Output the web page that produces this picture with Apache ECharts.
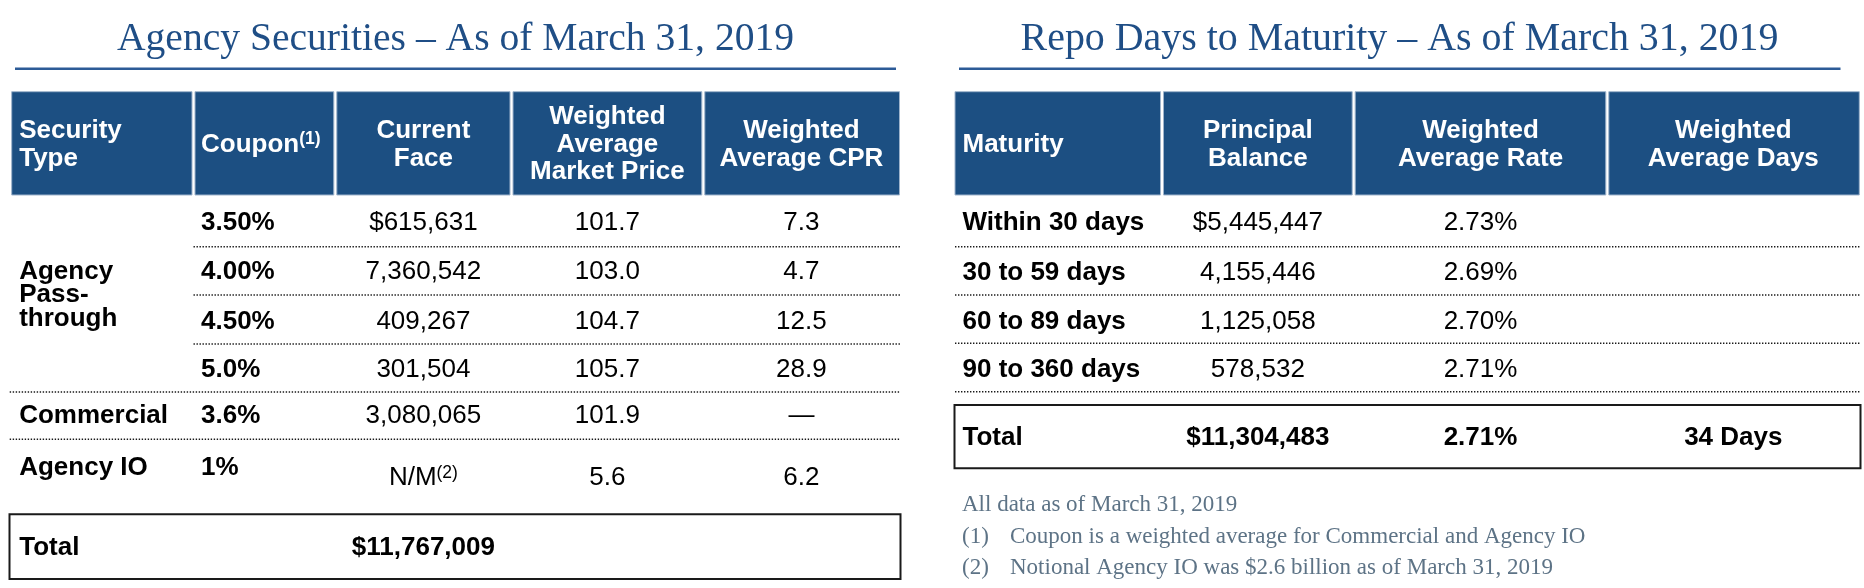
<!DOCTYPE html>
<html>
<head>
<meta charset="utf-8">
<script src="https://cdn.jsdelivr.net/npm/echarts@6/dist/echarts.min.js"></script>
<style>html,body{margin:0;padding:0;background:#fff}#chart{width:1864px;height:588px}</style>
</head>
<body>
<div id="chart"></div>
<script>
// ---------------- data ----------------
const leftTitle = 'Agency Securities – As of March 31, 2019';
const rightTitle = 'Repo Days to Maturity – As of March 31, 2019';

const secHeaders = ['Security\nType', 'Coupon', 'Current\nFace', 'Weighted\nAverage\nMarket Price', 'Weighted\nAverage CPR'];
const secHeaderNotes = ['', '(1)', '', '', ''];
const securityTypes = ['Agency\nPass-\nthrough', 'Commercial', 'Agency IO'];
const coupons = ['3.50%', '4.00%', '4.50%', '5.0%', '3.6%', '1%'];
const currentFace = ['$615,631', '7,360,542', '409,267', '301,504', '3,080,065', 'N/M'];
const currentFaceNotes = ['', '', '', '', '', '(2)'];
const marketPrice = ['101.7', '103.0', '104.7', '105.7', '101.9', '5.6'];
const cpr = ['7.3', '4.7', '12.5', '28.9', '—', '6.2'];
const secTotal = ['Total', '', '$11,767,009', '', ''];

const repoHeaders = ['Maturity', 'Principal\nBalance', 'Weighted\nAverage Rate', 'Weighted\nAverage Days'];
const maturities = ['Within 30 days', '30 to 59 days', '60 to 89 days', '90 to 360 days'];
const principal = ['$5,445,447', '4,155,446', '1,125,058', '578,532'];
const rates = ['2.73%', '2.69%', '2.70%', '2.71%'];
const repoTotal = ['Total', '$11,304,483', '2.71%', '34 Days'];

const footnoteMarks = ['', '(1)', '(2)'];
const footnotes = ['All data as of March 31, 2019',
  'Coupon is a weighted average for Commercial and Agency IO',
  'Notional Agency IO was $2.6 billion as of March 31, 2019'];

// ---------------- layout (positions / styles) ----------------
const SANS = '"Liberation Sans", Arial, sans-serif';
const SERIF = '"Liberation Serif", "Times New Roman", serif';
const NAVY = '#1c4f82';
const TEXT_DY = 1.2;
const HEAD_T = 91.7, HEAD_B = 195, HEAD_MID = 143.3;
const LC = [11.7, 193.5, 335.3, 511.5, 703.3, 899.5];        // left table column edges
const LROW = [221.5, 271, 320.5, 369, 415, 467];              // left table row centres
const LAST_ROW_VALUE_DY = 10;
const LDOTS = [[246.7, 1], [295, 1], [344, 1], [392, 0], [439.3, 0]];
const LTOT = {x0: 9.5, x1: 900.5, y0: 514.3, y1: 579};
const RC = [955, 1162, 1353.7, 1607.3, 1859.3];                // right table column edges
const RROW = [221.7, 271.5, 320.5, 369];
const RDOTS = [246.7, 295, 343.3, 391.7];
const RTOT = {x0: 954.5, x1: 1860.5, y0: 405, y1: 468.3};
const PAD = 7.5;

// ---------------- build cell list ----------------
const cells = [];
const mid = (E, i) => (E[i] + E[i + 1]) / 2;
function text(x, y, t, align, o) { cells.push(Object.assign({k: 'text', x: x, y: y, text: t, align: align}, o || {})); }
function rect(x0, y0, x1, y1, style) { cells.push({k: 'rect', x0, y0, x1, y1, style}); }
function line(x0, y0, x1, y1, style) { cells.push({k: 'line', x0, y0, x1, y1, style}); }
const headRectStyle = {fill: NAVY, stroke: '#9fb4cc', lineWidth: 1};
const dotStyle = {stroke: '#1a1a1a', lineWidth: 1.6, lineDash: [1.4, 1.6]};
const boxStyle = {fill: 'none', stroke: '#1a1a1a', lineWidth: 2};

// left headers
secHeaders.forEach((h, i) => {
  rect(LC[i] + (i ? 1.5 : 0), HEAD_T, LC[i + 1] - (i < secHeaders.length - 1 ? 1.5 : 0), HEAD_B, headRectStyle);
  const left = i < 2;
  text(left ? LC[i] + PAD : mid(LC, i), HEAD_MID, h, left ? 'left' : 'center', {note: secHeaderNotes[i], bold: true, fill: '#fff', lh: 27.7});
});
// left body
text(LC[0] + PAD, (LROW[0] + LROW[3]) / 2 - 1.5, securityTypes[0], 'left', {bold: true, lh: 23.5});
text(LC[0] + PAD, LROW[4], securityTypes[1], 'left', {bold: true});
text(LC[0] + PAD, LROW[5], securityTypes[2], 'left', {bold: true});
coupons.forEach((c, r) => {
  const y = LROW[r];
  const yv = r === coupons.length - 1 ? y + LAST_ROW_VALUE_DY : y;
  text(LC[1] + PAD, y, c, 'left', {bold: true});
  text(mid(LC, 2), yv, currentFace[r], 'center', {note: currentFaceNotes[r], noteBold: false});
  text(mid(LC, 3), yv, marketPrice[r], 'center');
  text(mid(LC, 4), yv, cpr[r], 'center');
});
LDOTS.forEach(d => line(d[1] ? LC[1] : LC[0] - 2, d[0], LC[5] + 1, d[0], dotStyle));
rect(LTOT.x0, LTOT.y0, LTOT.x1, LTOT.y1, boxStyle);
secTotal.forEach((t, i) => { if (t) text(i === 0 ? LC[0] + PAD : mid(LC, i), (LTOT.y0 + LTOT.y1) / 2, t, i === 0 ? 'left' : 'center', {bold: true}); });

// right headers
repoHeaders.forEach((h, i) => {
  rect(RC[i] + (i ? 1.5 : 0), HEAD_T, RC[i + 1] - (i < repoHeaders.length - 1 ? 1.5 : 0), HEAD_B, headRectStyle);
  const left = i === 0;
  text(left ? RC[i] + PAD : mid(RC, i), HEAD_MID, h, left ? 'left' : 'center', {bold: true, fill: '#fff', lh: 27.7});
});
maturities.forEach((m, r) => {
  text(RC[0] + PAD, RROW[r], m, 'left', {bold: true});
  text(mid(RC, 1), RROW[r], principal[r], 'center');
  text(mid(RC, 2), RROW[r], rates[r], 'center');
});
RDOTS.forEach(y => line(RC[0], y, RC[4] + 1, y, dotStyle));
rect(RTOT.x0, RTOT.y0, RTOT.x1, RTOT.y1, boxStyle);
repoTotal.forEach((t, i) => text(i === 0 ? RC[0] + PAD : mid(RC, i), (RTOT.y0 + RTOT.y1) / 2, t, i === 0 ? 'left' : 'center', {bold: true}));

// ---------------- render ----------------
function renderItem(params, api) {
  const c = cells[params.dataIndex];
  if (c.k === 'rect') {
    const p0 = api.coord([c.x0, c.y0]), p1 = api.coord([c.x1, c.y1]);
    return {type: 'rect', shape: {x: p0[0], y: p0[1], width: p1[0] - p0[0], height: p1[1] - p0[1]}, style: c.style};
  }
  if (c.k === 'line') {
    const p0 = api.coord([c.x0, c.y0]), p1 = api.coord([c.x1, c.y1]);
    return {type: 'line', shape: {x1: p0[0], y1: p0[1], x2: p1[0], y2: p1[1]}, style: c.style};
  }
  const p = api.coord([c.x, c.y + TEXT_DY]);
  const fill = c.fill || '#000';
  const weight = c.bold ? 'bold' : 'normal';
  let style;
  if (c.note) {
    style = {
      text: '{m|' + c.text + '}{s|' + c.note + '}',
      align: c.align, verticalAlign: 'middle',
      rich: {
        m: {fontSize: 26, fontFamily: SANS, fontWeight: weight, fill: fill, lineHeight: 28},
        s: {fontSize: 17.5, fontFamily: SANS, fontWeight: c.noteBold === false ? 'normal' : weight, fill: fill, lineHeight: 16, verticalAlign: 'top'}
      }
    };
  } else {
    style = {text: c.text, fontSize: 26, fontFamily: SANS, fontWeight: weight, fill: fill,
      align: c.align, verticalAlign: 'middle', lineHeight: c.lh || 28};
  }
  return {type: 'text', x: p[0], y: p[1], style: style};
}

const graphics = [
  {type: 'text', x: 455.5, y: 39.5, style: {text: leftTitle, align: 'center', verticalAlign: 'middle', fontFamily: SERIF, fontSize: 39.6, fill: '#1f4e86'}},
  {type: 'text', x: 1399.5, y: 39.5, style: {text: rightTitle, align: 'center', verticalAlign: 'middle', fontFamily: SERIF, fontSize: 39.9, fill: '#1f4e86'}},
  {type: 'line', shape: {x1: 15, y1: 68.7, x2: 896, y2: 68.7}, style: {stroke: '#2c5b97', lineWidth: 2.5}},
  {type: 'line', shape: {x1: 959, y1: 68.7, x2: 1840.5, y2: 68.7}, style: {stroke: '#2c5b97', lineWidth: 2.5}}
];
const NOTE_Y = [505, 536.5, 567.5];
const noteStyle = {fontFamily: SERIF, fontSize: 23, fill: '#5d7386', align: 'left', verticalAlign: 'middle'};
footnotes.forEach((f, i) => {
  if (footnoteMarks[i]) {
    graphics.push({type: 'text', x: 962, y: NOTE_Y[i], style: Object.assign({text: footnoteMarks[i]}, noteStyle)});
    graphics.push({type: 'text', x: 1010, y: NOTE_Y[i], style: Object.assign({text: f}, noteStyle)});
  } else {
    graphics.push({type: 'text', x: 962, y: NOTE_Y[i], style: Object.assign({text: f}, noteStyle)});
  }
});

const chart = echarts.init(document.getElementById('chart'), null, {renderer: 'canvas'});
chart.setOption({
  animation: false,
  backgroundColor: '#ffffff',
  grid: {left: 0, right: 0, top: 0, bottom: 0},
  xAxis: {type: 'value', min: 0, max: 1864, show: false},
  yAxis: {type: 'value', min: 0, max: 588, inverse: true, show: false},
  graphic: graphics,
  series: [{
    type: 'custom',
    coordinateSystem: 'cartesian2d',
    silent: true,
    clip: false,
    renderItem: renderItem,
    data: cells.map((c, i) => [i, 0])
  }]
});
</script>
</body>
</html>
